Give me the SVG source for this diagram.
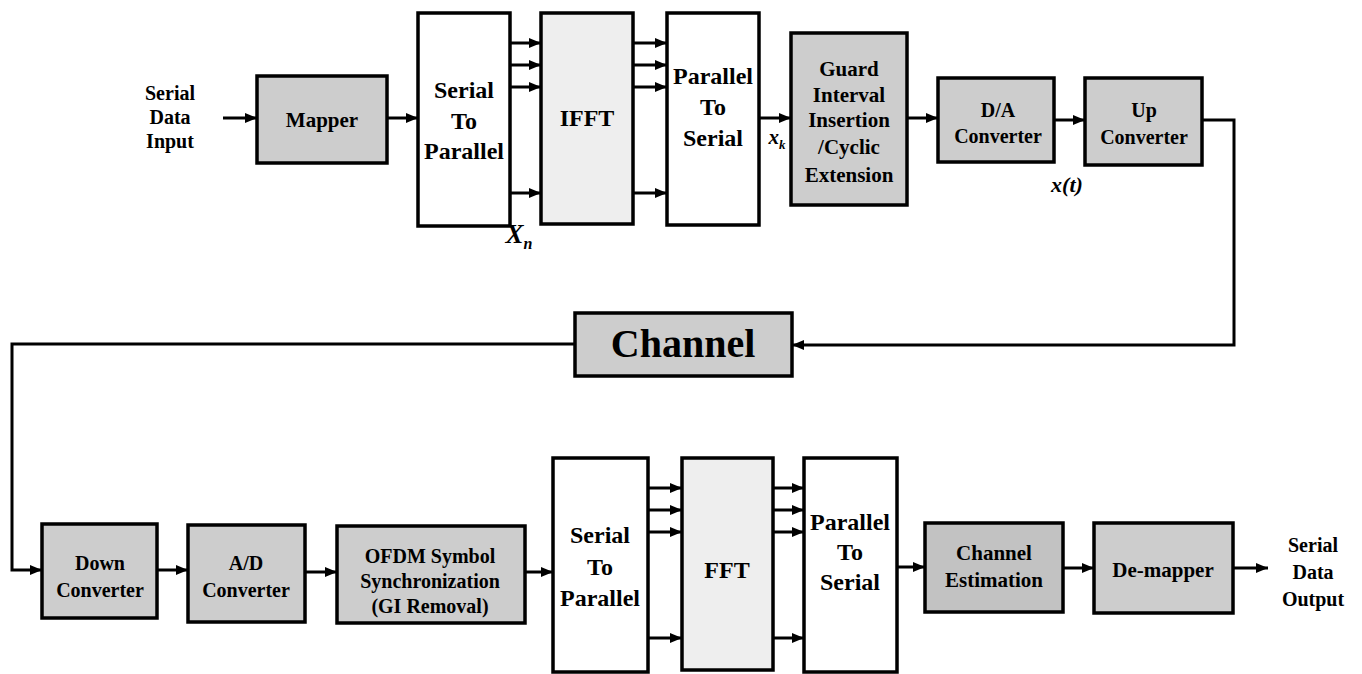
<svg xmlns="http://www.w3.org/2000/svg" width="1362" height="674" viewBox="0 0 1362 674">
<style>
.box{stroke:#000;stroke-width:3.5}
.g{fill:#cdcdcd}
.gd{fill:#c2c2c2}
.gl{fill:#eeeeee}
.w{fill:#fff}
text{font-family:"Liberation Serif","Times New Roman",serif;font-weight:bold;fill:#000;text-anchor:middle}
.t20{font-size:20px}
.t21{font-size:21px}
.t22{font-size:22px}
.t24{font-size:24px}
.it{font-style:italic}
.ln{fill:none;stroke:#000;stroke-width:3}
</style>
<defs>
<marker id="ah" markerUnits="userSpaceOnUse" markerWidth="12" markerHeight="12" viewBox="0 0 12 12" refX="12" refY="6" orient="auto">
<path d="M0,1 L12,6 L0,11 Z" fill="#000"/>
</marker>
</defs>
<rect width="1362" height="674" fill="#fff"/>

<g id="conn">
<path class="ln" d="M223,118 H257" marker-end="url(#ah)"/>
<path class="ln" d="M387,118 H418" marker-end="url(#ah)"/>
<path class="ln" d="M510,43 H541" marker-end="url(#ah)"/>
<path class="ln" d="M510,65 H541" marker-end="url(#ah)"/>
<path class="ln" d="M510,87 H541" marker-end="url(#ah)"/>
<path class="ln" d="M510,193 H541" marker-end="url(#ah)"/>
<path class="ln" d="M633,43 H667" marker-end="url(#ah)"/>
<path class="ln" d="M633,65 H667" marker-end="url(#ah)"/>
<path class="ln" d="M633,87 H667" marker-end="url(#ah)"/>
<path class="ln" d="M633,193 H667" marker-end="url(#ah)"/>
<path class="ln" d="M759,118 H791" marker-end="url(#ah)"/>
<path class="ln" d="M907,118 H938" marker-end="url(#ah)"/>
<path class="ln" d="M1054,120 H1085" marker-end="url(#ah)"/>
<path class="ln" d="M1202,120 H1234 V345 H792" marker-end="url(#ah)"/>
<path class="ln" d="M575,344 H12 V570 H42" marker-end="url(#ah)"/>
<path class="ln" d="M157,570 H188" marker-end="url(#ah)"/>
<path class="ln" d="M305,572 H337" marker-end="url(#ah)"/>
<path class="ln" d="M525,572 H553" marker-end="url(#ah)"/>
<path class="ln" d="M648,488 H682" marker-end="url(#ah)"/>
<path class="ln" d="M648,510 H682" marker-end="url(#ah)"/>
<path class="ln" d="M648,532 H682" marker-end="url(#ah)"/>
<path class="ln" d="M648,638 H682" marker-end="url(#ah)"/>
<path class="ln" d="M773,488 H804" marker-end="url(#ah)"/>
<path class="ln" d="M773,510 H804" marker-end="url(#ah)"/>
<path class="ln" d="M773,532 H804" marker-end="url(#ah)"/>
<path class="ln" d="M773,638 H804" marker-end="url(#ah)"/>
<path class="ln" d="M897,567 H925" marker-end="url(#ah)"/>
<path class="ln" d="M1063,568 H1094" marker-end="url(#ah)"/>
<path class="ln" d="M1233,568 H1268" marker-end="url(#ah)"/>
</g>

<g id="input">
<text class="t20" x="170" y="100">Serial</text>
<text class="t20" x="170" y="124">Data</text>
<text class="t20" x="170" y="148">Input</text>
</g>

<g id="mapper">
<rect class="box g" x="257" y="76" width="130" height="87"/>
<text class="t21" x="322" y="127">Mapper</text>
</g>

<g id="s2p1">
<rect class="box w" x="418" y="13" width="92" height="213"/>
<text class="t24" x="464" y="98">Serial</text>
<text class="t24" x="464" y="129">To</text>
<text class="t24" x="464" y="159">Parallel</text>
</g>

<g id="xn">
<text class="it" x="519" y="243" style="font-size:27px">X<tspan dy="6" style="font-size:16px">n</tspan></text>
</g>

<g id="ifft">
<rect class="box gl" x="541" y="13" width="92" height="211"/>
<text class="t24" x="587" y="126">IFFT</text>
</g>

<g id="p2s1">
<rect class="box w" x="667" y="13" width="92" height="212"/>
<text class="t24" x="713" y="84">Parallel</text>
<text class="t24" x="713" y="115">To</text>
<text class="t24" x="713" y="146">Serial</text>
</g>

<g id="xk">
<text class="it" x="777" y="144" style="font-size:21px">x<tspan dy="5" style="font-size:13px">k</tspan></text>
</g>

<g id="guard">
<rect class="box g" x="791" y="33" width="116" height="172"/>
<text class="t21" x="849" y="76">Guard</text>
<text class="t21" x="849" y="102">Interval</text>
<text class="t21" x="849" y="127">Insertion</text>
<text class="t21" x="849" y="154">/Cyclic</text>
<text class="t21" x="849" y="182">Extension</text>
</g>

<g id="da">
<rect class="box g" x="938" y="78" width="116" height="84"/>
<text class="t20" x="998" y="117">D/A</text>
<text class="t20" x="998" y="143">Converter</text>
</g>

<g id="xt">
<text class="it t22" x="1067" y="192">x(t)</text>
</g>

<g id="up">
<rect class="box g" x="1085" y="78" width="117" height="87"/>
<text class="t20" x="1144" y="117">Up</text>
<text class="t20" x="1144" y="144">Converter</text>
</g>

<g id="channel">
<rect class="box g" x="575" y="313" width="217" height="63"/>
<text x="683" y="357" style="font-size:40px">Channel</text>
</g>

<g id="down">
<rect class="box g" x="42" y="524" width="115" height="94"/>
<text class="t20" x="100" y="570">Down</text>
<text class="t20" x="100" y="597">Converter</text>
</g>

<g id="ad">
<rect class="box g" x="188" y="525" width="117" height="97"/>
<text class="t20" x="246" y="570">A/D</text>
<text class="t20" x="246" y="597">Converter</text>
</g>

<g id="ofdm">
<rect class="box g" x="337" y="526" width="188" height="97"/>
<text class="t20" x="430" y="563">OFDM Symbol</text>
<text class="t20" x="430" y="588">Synchronization</text>
<text class="t20" x="430" y="613">(GI Removal)</text>
</g>

<g id="s2p2">
<rect class="box w" x="553" y="458" width="95" height="214"/>
<text class="t24" x="600" y="543">Serial</text>
<text class="t24" x="600" y="575">To</text>
<text class="t24" x="600" y="606">Parallel</text>
</g>

<g id="fft">
<rect class="box gl" x="682" y="458" width="91" height="212"/>
<text class="t24" x="727" y="578">FFT</text>
</g>

<g id="p2s2">
<rect class="box w" x="804" y="458" width="93" height="214"/>
<text class="t24" x="850" y="530">Parallel</text>
<text class="t24" x="850" y="560">To</text>
<text class="t24" x="850" y="590">Serial</text>
</g>

<g id="chest">
<rect class="box gd" x="925" y="523" width="138" height="89"/>
<text class="t21" x="994" y="560">Channel</text>
<text class="t21" x="994" y="587">Estimation</text>
</g>

<g id="demapper">
<rect class="box g" x="1094" y="523" width="139" height="90"/>
<text class="t21" x="1163" y="577">De-mapper</text>
</g>

<g id="output">
<text class="t20" x="1313" y="552">Serial</text>
<text class="t20" x="1313" y="579">Data</text>
<text class="t20" x="1313" y="606">Output</text>
</g>
</svg>
